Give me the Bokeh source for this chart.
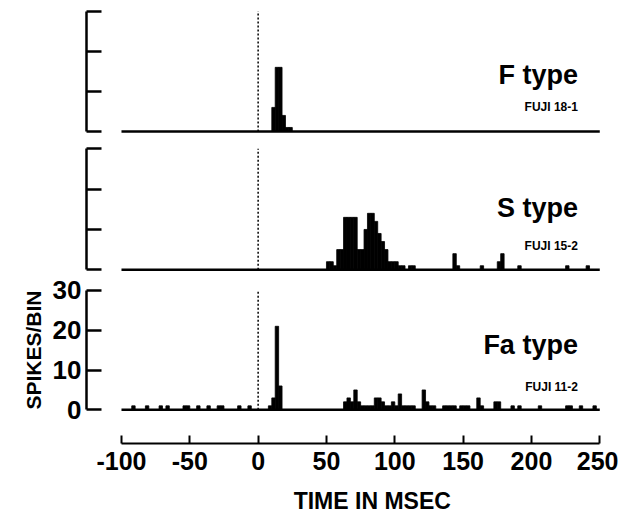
from bokeh.plotting import figure
from bokeh.layouts import column
from bokeh.models import FixedTicker, Range1d, ColumnDataSource, Label
from bokeh.core.properties import value
from bokeh.embed import file_html
from bokeh.resources import INLINE

# ---------------- data ----------------
BIN_MS = 2.5
T_START, T_END = -100, 250
STIM_T = 0
Y_TICKS = [0, 10, 20, 30]
X_TICKS = [-100, -50, 0, 50, 100, 150, 200, 250]
X_TICK_LABELS = ["-100", "-50", "0", "50", "100", "150", "200", "250"]

# F type (FUJI 18-1): bin start (ms) and spikes per bin
f_bins = [10, 12.5, 15, 17.5, 20, 22.5]
f_counts = [6, 16, 16, 4, 1, 1]

# S type (FUJI 15-2)
s_bins = [50, 52.5, 55, 57.5, 60, 62.5, 65, 67.5, 70, 72.5, 75, 77.5, 80, 82.5,
          85, 87.5, 90, 92.5, 95, 97.5, 100, 102.5, 105, 110, 112.5,
          142.5, 145, 162.5, 175, 177.5, 190, 225, 240]
s_counts = [2, 2, 1, 5, 5, 13, 13, 13, 13, 5, 5, 10, 14, 14,
            12, 9, 7, 5, 2, 2, 2, 1, 1, 1, 1,
            4, 1, 1, 2, 4, 1, 1, 1]

# Fa type (FUJI 11-2)
fa_bins = [-92.5, -82.5, -72.5, -67.5, -55, -52.5, -45, -37.5, -30, -27.5, -15, -7.5,
           7.5, 10, 12.5, 15,
           62.5, 65, 67.5, 70, 72.5, 75, 77.5, 80, 82.5, 85, 87.5, 90, 92.5, 95,
           97.5, 100, 102.5, 105, 107.5, 110, 112.5, 120, 122.5, 125, 127.5,
           135, 137.5, 140, 142.5, 147.5, 150, 152.5, 160, 162.5, 172.5, 175,
           185, 190, 205, 225, 227.5, 235, 245]
fa_counts = [1, 1, 1, 1, 1, 1, 1, 1, 1, 1, 1, 1,
             1, 3, 21, 6,
             2, 3, 2, 5, 2, 1, 1, 1, 1, 3, 3, 2, 1, 1,
             2, 1, 4, 1, 1, 1, 1, 5, 2, 1, 1,
             1, 1, 1, 1, 1, 1, 1, 3, 1, 2, 2,
             1, 1, 1, 1, 1, 1, 1]

panel_types = ["F type", "S type", "Fa type"]
panel_units = ["FUJI 18-1", "FUJI 15-2", "FUJI 11-2"]
y_label = "SPIKES/BIN"
x_label = "TIME IN MSEC"

# ---------------- layout / style ----------------
FONT = "Liberation Sans"
W = 618
BORDER_L = 86
BORDER_R = 16
x_range = Range1d(-125.6, 252.0)
panel_heights = [147, 127, 151]
panel_yranges = [(-4.0, 32.675), (-1.17, 30.32), (-3.94, 34.02)]
title_y = [14.0, 15.4, 16.4]
unit_y = [6.0, 5.9, 5.8]
LABEL_X = 234.0
XLABEL_X = 83.5
XLABEL_Y = 0.5

series = [(f_bins, f_counts), (s_bins, s_counts), (fa_bins, fa_counts)]


def bare_figure(height, y_range, **kw):
    p = figure(width=W, height=height, x_range=x_range, y_range=y_range,
               output_backend="svg", toolbar_location=None,
               min_border_left=BORDER_L, min_border_right=BORDER_R,
               min_border_top=0, **kw)
    p.outline_line_color = None
    p.xgrid.visible = False
    p.ygrid.visible = False
    p.background_fill_color = "white"
    p.border_fill_color = "white"
    return p


plots = []
for i, (bins, counts) in enumerate(series):
    p = bare_figure(panel_heights[i], Range1d(*panel_yranges[i]),
                    x_axis_location=None, y_axis_location="left",
                    min_border_bottom=0)

    src = ColumnDataSource(dict(left=bins, right=[b + BIN_MS for b in bins],
                                top=counts, bottom=[0] * len(bins)))
    p.quad(left="left", right="right", top="top", bottom="bottom", source=src,
           fill_color="black", line_color="black", line_width=0.8)
    # baseline of histogram
    p.segment(x0=[T_START], y0=[0], x1=[T_END], y1=[0], line_color="black",
              line_width=2.5)
    # stimulus onset marker
    p.segment(x0=[STIM_T], y0=[0], x1=[STIM_T], y1=[Y_TICKS[-1]],
              line_color="black", line_width=1.5, line_dash="2 2")

    ax = p.yaxis[0]
    ax.bounds = (Y_TICKS[0], Y_TICKS[-1])
    ax.ticker = FixedTicker(ticks=Y_TICKS)
    ax.minor_tick_line_color = None
    ax.major_tick_in = 15
    ax.major_tick_out = 0
    ax.axis_line_width = 2.5
    ax.major_tick_line_width = 2.5
    ax.major_label_standoff = 5
    ax.major_label_text_font = FONT
    ax.major_label_text_font_style = "bold"
    ax.major_label_text_font_size = "26px"
    ax.major_label_text_color = "black"
    if i < 2:
        ax.major_label_text_color = None
    else:
        ax.axis_label = y_label
        ax.axis_label_text_font = FONT
        ax.axis_label_text_font_style = "bold"
        ax.axis_label_text_font_size = "21px"
        ax.axis_label_text_color = "black"
        ax.axis_label_standoff = 5

    p.add_layout(Label(x=LABEL_X, y=title_y[i], text=panel_types[i],
                       text_align="right", text_baseline="alphabetic",
                       text_font=FONT, text_font_style="bold",
                       text_font_size="27px", text_color="black"))
    p.add_layout(Label(x=LABEL_X, y=unit_y[i], text=panel_units[i],
                       text_align="right", text_baseline="alphabetic",
                       text_font=FONT, text_font_style="bold",
                       text_font_size="12px", text_color="black"))
    plots.append(p)

# bottom time axis
pa = bare_figure(58, Range1d(0, 1), x_axis_location="below",
                 y_axis_location=None, min_border_bottom=40)
xa = pa.xaxis[0]
xa.bounds = (T_START, T_END)
xa.ticker = FixedTicker(ticks=X_TICKS)
xa.major_label_overrides = {t: s for t, s in zip(X_TICKS, X_TICK_LABELS)}
xa.minor_tick_line_color = None
xa.major_tick_in = 8
xa.major_tick_out = 0
xa.axis_line_width = 2
xa.major_tick_line_width = 2
xa.major_label_standoff = 8
xa.major_label_text_font = FONT
xa.major_label_text_font_style = "bold"
xa.major_label_text_font_size = "25px"
xa.major_label_text_color = "black"
plots.append(pa)

# axis title row
pt = bare_figure(34, Range1d(0, 1), x_axis_location=None,
                 y_axis_location=None, min_border_bottom=0)
pt.text(x=[XLABEL_X], y=[XLABEL_Y], text=[x_label], text_align="center",
        text_baseline="middle", text_font=value(FONT),
        text_font_style="bold", text_font_size="23px", text_color="black")
plots.append(pt)

layout = column(*plots, spacing=0)
open("out.html", "w").write(file_html(layout, INLINE))
